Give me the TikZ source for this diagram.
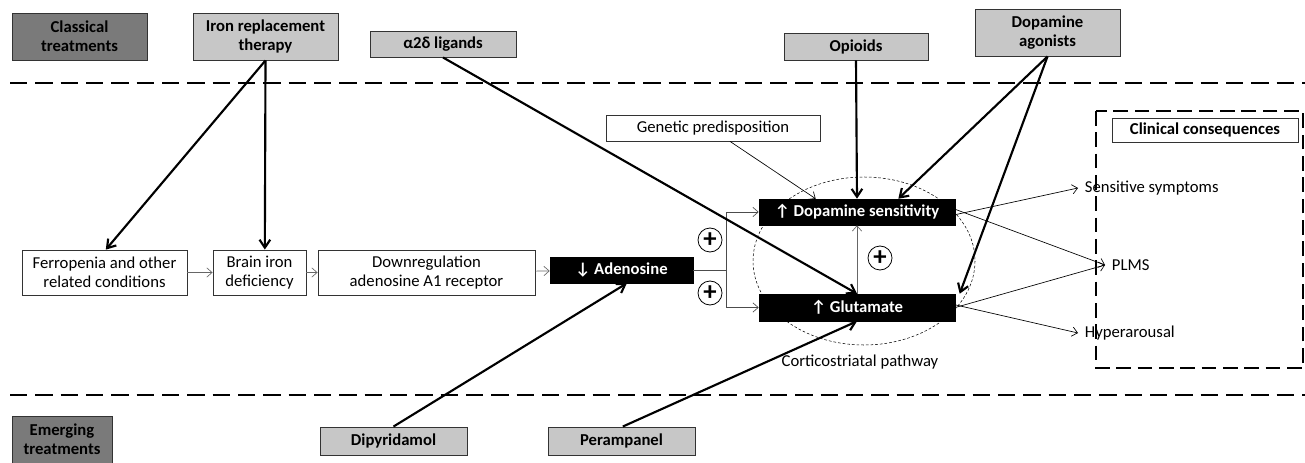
\documentclass[tikz,border=0pt]{standalone}
\usepackage{fontspec}
\setmainfont{Carlito}
\usetikzlibrary{arrows.meta}
\begin{document}
\begin{tikzpicture}[x=0.75pt,y=-0.75pt,
  font=\fontsize{12.5}{14}\selectfont,
  darkbox/.style={draw=black!80,fill=black!52,line width=0.7pt,align=center,font=\fontsize{12.5}{14}\selectfont\bfseries,inner sep=1pt},
  lightbox/.style={draw=black!80,fill=black!22,line width=0.7pt,align=center,font=\fontsize{12.5}{14}\selectfont\bfseries,inner sep=1pt},
  whitebox/.style={draw=black!80,fill=white,line width=0.6pt,align=center,inner sep=1pt},
  blackbox/.style={draw=black,fill=black,text=white,align=center,font=\fontsize{12.5}{14}\selectfont\bfseries,inner sep=1pt},
  sep/.style={line width=1.8pt,dash pattern=on 13pt off 6pt},
  thickarr/.style={line width=1.6pt,-{Straight Barb[length=6pt,width=8pt]}},
  thinarr/.style={line width=0.5pt,-{Straight Barb[length=4pt,width=7pt]}},
  grayarr/.style={line width=0.5pt,draw=black!60,-{Straight Barb[length=4pt,width=7pt]}},
  plus/.style={circle,draw=black,line width=0.6pt,minimum size=18pt,inner sep=0pt,font=\fontsize{20}{20}\selectfont\bfseries}
]
\useasboundingbox (0,0) rectangle (1305,463);

% separators
\coordinate (t1) at (10,83); \coordinate (t2) at (1305,83);
\coordinate (b1) at (10,395); \coordinate (b2) at (1305,395);
\draw[sep] (t1) -- (t2);
\draw[sep] (b1) -- (b2);

% treatments
\node[darkbox,minimum width=101.25pt,minimum height=35.25pt] (classical) at (79.5,36.5) {Classical\\treatments};
\node[lightbox,minimum width=108.75pt,minimum height=35.25pt] (iron) at (265.5,36.5) {Iron replacement\\therapy};
\node[lightbox,minimum width=109.5pt,minimum height=19.5pt] (alpha) at (443,44) {α2δ ligands};
\node[lightbox,minimum width=108pt,minimum height=20.25pt] (opioids) at (856,46.5) {Opioids};
\node[lightbox,minimum width=108.75pt,minimum height=35.25pt] (dopag) at (1047.5,32.5) {Dopamine\\agonists};

\node[darkbox,minimum width=75pt,minimum height=35.25pt] (emerging) at (62,439.5) {Emerging\\treatments};
\node[lightbox,minimum width=110.25pt,minimum height=21pt] (dipy) at (393.5,441) {Dipyridamol};
\node[lightbox,minimum width=110.25pt,minimum height=21pt] (peram) at (621.5,441) {Perampanel};

% pathway
\node[whitebox,minimum width=123.75pt,minimum height=33.75pt] (ferro) at (104.5,272.5) {Ferropenia and other\\related conditions};
\node[whitebox,minimum width=69.75pt,minimum height=33.75pt] (brain) at (259.5,272.5) {Brain iron\\deficiency};
\node[whitebox,minimum width=162.75pt,minimum height=33.75pt] (down) at (426.5,272.5) {Downregulation\\adenosine A1 receptor};
\node[blackbox,minimum width=107.25pt,minimum height=19.5pt] (aden) at (621.5,270) {↓ Adenosine};

\draw[line width=0.4pt,dash pattern=on 2pt off 1.5pt] (864,261) ellipse [x radius=111, y radius=84];
\node[blackbox,minimum width=147pt,minimum height=19.5pt] (dops) at (857,212) {↑ Dopamine sensitivity};
\node[blackbox,minimum width=147pt,minimum height=20.25pt] (glut) at (857,307.5) {↑ Glutamate};
\node[whitebox,minimum width=160.5pt,minimum height=19.5pt] (gen) at (713,128) {Genetic predisposition};
\node (cort) at (860,362) {Corticostriatal pathway};

\node[plus] (p1) at (710,240) {+};
\node[plus] (p2) at (710,293) {+};
\node[plus] (p3) at (880,258) {+};

% clinical consequences
\draw[line width=1.8pt,dash pattern=on 11pt off 5pt] (1096,111) rectangle (1303,368);
\node[whitebox,minimum width=139.5pt,minimum height=18pt,font=\fontsize{12.5}{14}\selectfont\bfseries] (clin) at (1205,130) {Clinical consequences};
\node[anchor=west,inner sep=5pt] (sens) at (1078,188) {Sensitive symptoms};
\node[anchor=west,inner sep=5pt] (plms) at (1105,265) {PLMS};
\node[anchor=west,inner sep=5pt] (hyper) at (1078,333) {Hyperarousal};

% chain arrows
\draw[grayarr] (ferro) -- (brain);
\draw[grayarr] (brain) -- (down);
\draw[grayarr] (down) -- (aden);
\coordinate (split) at (726,270);
\draw[grayarr,draw=black!70] (aden.east) -- (split) |- (dops.west);
\draw[grayarr,draw=black!70] (split) |- (glut.west);
\draw[grayarr] (glut.north) -- (dops.south);
\draw[thinarr] (gen.south) ++(17,0) coordinate (gs) (gs) -- ([xshift=-31]dops.north);

% outputs
\draw[thinarr] ([yshift=-2]dops.east) -- (sens.west);
\draw[thinarr] ([yshift=2]dops.east) -- (plms.west);
\draw[thinarr] (glut.east) -- (plms.west);
\draw[thinarr] ([yshift=2]glut.east) -- (hyper.west);

% treatment arrows
\draw[thickarr] (iron.south) -- ([xshift=1]ferro.north);
\draw[thickarr] (iron.south) -- ([xshift=4]brain.north);
\draw[thickarr] (alpha.south) -- (glut.north);
\draw[thickarr] (opioids.south) -- (dops.north);
\draw[thickarr] (dopag.south) -- ([xshift=31]dops.north);
\draw[thickarr] (dopag.south) -- ([xshift=77]glut.north);
\draw[thickarr] (dipy.north) -- ([xshift=4]aden.south);
\draw[thickarr] ([xshift=1]peram.north) -- (glut.south);
\end{tikzpicture}
\end{document}
